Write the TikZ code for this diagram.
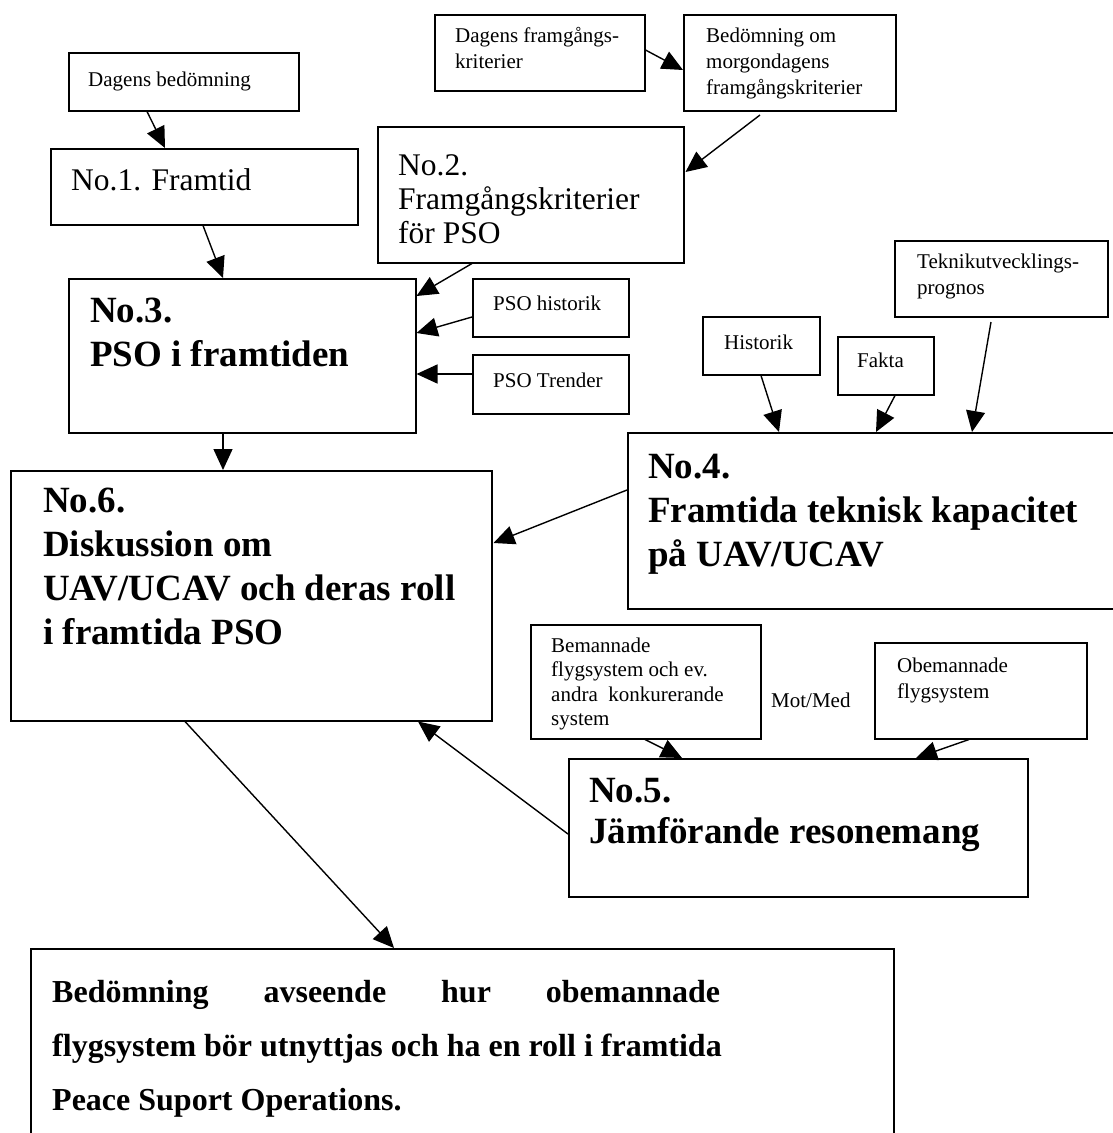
\documentclass[tikz,border=0pt]{standalone}
\usepackage{fontspec}
\setmainfont{Liberation Serif}
\usetikzlibrary{arrows.meta,calc}

% text block whose baseline is the first line
\newcommand\txtblock[1]{\parbox[t]{700pt}{#1}}

\tikzset{
  x={(1pt,0)}, y={(0,-1pt)},
  box/.style={draw, line width=1.5pt, fill=white, anchor=north west, inner sep=0pt},
  lbl/.style={anchor=base west, inner sep=0pt},
  small/.style={font=\fontsize{21}{26}\selectfont},
  mid/.style={font=\fontsize{31.5}{34}\selectfont},
  head/.style={font=\fontsize{37}{44}\selectfont\bfseries},
  foot/.style={font=\fontsize{32}{54}\selectfont\bfseries},
  link/.style={line width=1.4pt, -{Triangle[length=21pt,width=19pt]}},
}

\begin{document}
\begin{tikzpicture}
\useasboundingbox (0,0) rectangle (1113,1133);
\clip (0,0) rectangle (1113,1133);

% ---- boxes ----
\node[box, minimum width=230pt, minimum height=58pt]  (dagbed)   at (68,52)   {};
\node[box, minimum width=307pt, minimum height=76pt]  (no1)      at (50,148)  {};
\node[box, minimum width=210pt, minimum height=76pt]  (dagfram)  at (434,14)  {};
\node[box, minimum width=212pt, minimum height=96pt]  (bedom)    at (683,14)  {};
\node[box, minimum width=306pt, minimum height=136pt] (no2)      at (377,126) {};
\node[box, minimum width=347pt, minimum height=154pt] (no3)      at (68,278)  {};
\node[box, minimum width=156pt, minimum height=58pt]  (psohist)  at (472,278) {};
\node[box, minimum width=156pt, minimum height=59pt]  (psotrend) at (472,354) {};
\node[box, minimum width=481pt, minimum height=250pt] (no6)      at (10,470)  {};
\node[box, minimum width=503pt, minimum height=176pt] (no4)      at (627,432) {};
\node[box, minimum width=213pt, minimum height=76pt]  (tekn)     at (894,240) {};
\node[box, minimum width=117pt, minimum height=58pt]  (hist)     at (702,316) {};
\node[box, minimum width=96pt,  minimum height=58pt]  (fakta)    at (837,336) {};
\node[box, minimum width=230pt, minimum height=114pt] (beman)    at (530,624) {};
\node[box, minimum width=212pt, minimum height=96pt]  (obeman)   at (874,642) {};
\node[box, minimum width=459pt, minimum height=138pt] (no5)      at (568,758) {};
\node[box, minimum width=863pt, minimum height=230pt] (final)    at (30,948)  {};

% ---- texts ----
\node[lbl, small] (dagbed-t)   at (88,86)   {\txtblock{Dagens bedömning}};
\node[lbl, mid]   (no1-t)      at (71,190)  {\txtblock{No.1. Framtid}};
\node[lbl, small] (dagfram-t)  at (455,42)  {\txtblock{Dagens framgångs-\\kriterier}};
\node[lbl, small] (bedom-t)    at (706,42)  {\txtblock{Bedömning om\\morgondagens\\framgångskriterier}};
\node[lbl, mid]   (no2-t)      at (398,175) {\txtblock{No.2.\\Framgångskriterier\\för PSO}};
\node[lbl, head]  (no3-t)      at (90,322)  {\txtblock{No.3.\\PSO i framtiden}};
\node[lbl, small] (psohist-t)  at (493,310) {\txtblock{PSO historik}};
\node[lbl, small] (psotrend-t) at (493,387) {\txtblock{PSO Trender}};
\node[lbl, head]  (no6-t)      at (43,512)  {\txtblock{No.6.\\Diskussion om\\UAV/UCAV och deras roll\\i framtida PSO}};
\node[lbl, head]  (no4-t)      at (648,478) {\txtblock{No.4.\\Framtida teknisk kapacitet\\på UAV/UCAV}};
\node[lbl, small] (tekn-t)     at (917,268) {\txtblock{Teknikutvecklings-\\prognos}};
\node[lbl, small] (hist-t)     at (724,349) {\txtblock{Historik}};
\node[lbl, small] (fakta-t)    at (857,367) {\txtblock{Fakta}};
\node[lbl, small, font=\fontsize{21}{24.5}\selectfont] (beman-t) at (551,652)
  {\txtblock{Bemannade\\flygsystem och ev.\\andra~~konkurerande\\system}};
\node[lbl, small] (obeman-t)   at (897,672) {\txtblock{Obemannade\\flygsystem}};
\node[lbl, small] (motmed)     at (771,707) {Mot/Med};
\node[lbl, head, font=\fontsize{37}{41}\selectfont\bfseries] (no5-t) at (589,802)
  {\txtblock{No.5.\\Jämförande resonemang}};
\node[lbl, foot]  (final-t)    at (52,1002) {\txtblock{%
  \makebox[668pt][s]{Bedömning avseende hur obemannade}\\
  flygsystem bör utnyttjas och ha en roll i framtida\\
  Peace Suport Operations.}};

% ---- free connector ends ----
\coordinate (bedom-out) at (760,115);
\coordinate (tekn-out)  at (991,322);

% ---- connectors ----
\draw[link] ($(dagbed.south west)+(79,0)$) -- ($(no1.north west)+(115,0)$);
\draw[link] ($(dagfram.north east)+(0,36)$) -- ($(bedom.north west)+(0,56)$);
\draw[link] (bedom-out) -- ($(no2.north east)+(1,46)$);
\draw[link] ($(no2.south west)+(95,0)$) -- ($(no3.north east)+(0,18)$);
\draw[link] ($(psohist.north west)+(0,39)$) -- ($(no3.north east)+(0,55)$);
\draw[link] ($(psotrend.north west)+(0,20)$) -- ($(no3.north east)+(0,96)$);
\draw[link] ($(no1.south west)+(153,0)$) -- ($(no3.north west)+(155,0)$);
\draw[link] ($(no3.south west)+(155,0)$) -- ($(no6.north west)+(213,0)$);
\draw[link] ($(hist.south west)+(59,0)$) -- ($(no4.north west)+(152,0)$);
\draw[link] ($(fakta.south west)+(58,0)$) -- ($(no4.north west)+(249,0)$);
\draw[link] (tekn-out) -- ($(no4.north west)+(345,0)$);
\draw[link] ($(no4.north west)+(0,58)$) -- ($(no6.north east)+(1,73)$);
\draw[link] ($(beman.south west)+(115,0)$) -- ($(no5.north west)+(114,0)$);
\draw[link] ($(obeman.south west)+(95,0)$) -- ($(no5.north west)+(348,0)$);
\draw[link] ($(no5.north west)+(0,76)$) -- ($(no6.south west)+(408,0)$);
\draw[link] ($(no6.south west)+(175,0)$) -- ($(final.north west)+(364,0)$);
\end{tikzpicture}
\end{document}
